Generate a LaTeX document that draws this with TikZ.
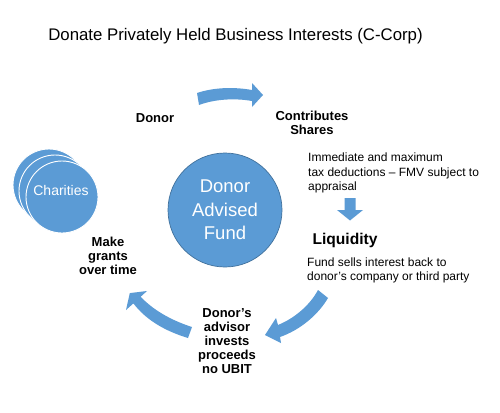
\documentclass[tikz,border=0pt]{standalone}
\usepackage{fontspec}
\setmainfont{Liberation Sans}
\definecolor{officeblue}{HTML}{5B9BD5}
\definecolor{officeedge}{HTML}{41719C}
\tikzset{
  blockarrow/.style={fill=officeblue, draw=none},
  charcircle/.style={circle, fill=officeblue, draw=white, line width=0.9pt, minimum size=72pt, inner sep=0pt},
  lbl/.style={font=\fontsize{13}{14}\selectfont\bfseries, align=center, inner sep=0pt, text=black},
  small/.style={font=\fontsize{12}{14.5}\selectfont, align=left, inner sep=0pt, anchor=west, text=black}
}
\begin{document}
\begin{tikzpicture}[x=1pt,y=-1pt]
\useasboundingbox[fill=white] (0,0) rectangle (500,412);

% title
\node[inner sep=0pt, font=\fontsize{16.8}{20}\selectfont] (title) at (235.5,36) {Donate Privately Held Business Interests (C-Corp)};

% donor advised fund
\node[circle, fill=officeblue, draw=officeedge, line width=0.7pt, minimum size=114pt, inner sep=0pt,
      text=white, align=center, font=\fontsize{18.5}{23.5}\selectfont] (daf) at (225,210) {Donor\\Advised\\Fund};

% charities
\node[charcircle] (ch1) at (49,185) {};
\node[charcircle] (ch2) at (55,191) {};
\node[charcircle] (ch3) at (62,197) {};
\node[inner sep=0pt, text=white, font=\fontsize{14}{16}\selectfont] (chtext) at (61,190) {Charities};

% labels
\node[lbl] (donor) at (155,118) {Donor};
\node[lbl, font=\fontsize{13}{14.5}\selectfont\bfseries] (contrib) at (312,123) {Contributes\\Shares};
\node[small] (immediate) at (308,173) {Immediate and maximum\\tax deductions -- FMV subject to\\appraisal};
\node[lbl, font=\fontsize{15.6}{18}\selectfont\bfseries] (liquidity) at (345,240) {Liquidity};
\node[small, font=\fontsize{12}{14}\selectfont] (fundsells) at (307,270) {Fund sells interest back to\\donor’s company or third party};
\node[lbl, font=\fontsize{13}{13.8}\selectfont\bfseries] (advisor) at (227,341) {Donor{\char"0027}s\\advisor\\invests\\proceeds\\no UBIT};
\node[lbl] (grants) at (108,256) {Make\\grants\\over time};

% top curved arrow
\path[blockarrow] (197,93) .. controls (215,87) and (235,87) .. (252,90) -- (252,83) -- (263,95)
  -- (252,107) -- (252,101) .. controls (235,98) and (215,99) .. (199,105) -- cycle;

% down arrow
\path[blockarrow] (344.5,198) -- (355.5,198) -- (355.5,210) -- (363,210) -- (350,220.5)
  -- (337,210) -- (344.5,210) -- cycle;

% bottom right curved arrow
\path[blockarrow] (318,290) -- (328,298) .. controls (318,315) and (300,330) .. (280,337)
  -- (281,343) -- (265,335) -- (276,318) -- (278,325) .. controls (295,318) and (310,305) .. (318,290) -- cycle;

% bottom left curved arrow
\path[blockarrow] (192,327) -- (188,338) .. controls (165,331) and (146,320) .. (133.4,303.4)
  -- (126,310) -- (129.8,293.1) -- (147,291) -- (140.7,296.7) .. controls (152,309) and (170,320) .. (192,327) -- cycle;
\end{tikzpicture}
\end{document}
